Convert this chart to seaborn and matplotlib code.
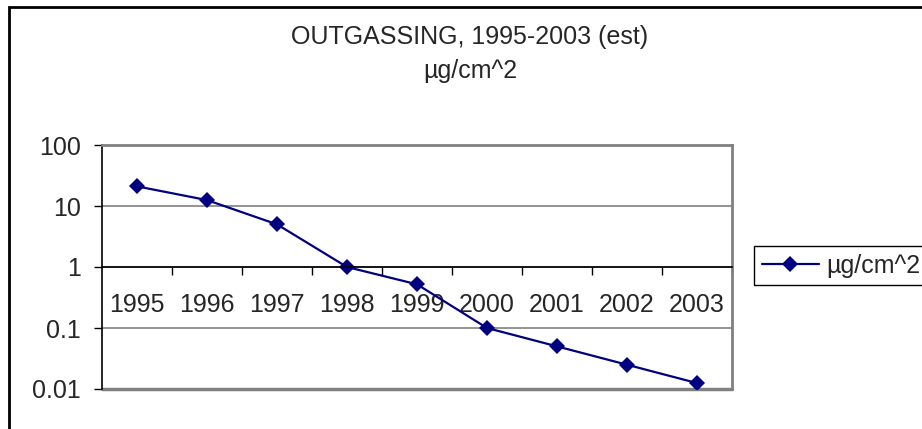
import matplotlib
matplotlib.use("Agg")
import matplotlib.pyplot as plt
import matplotlib.patches as patches
from matplotlib.ticker import FixedLocator, NullLocator
import pandas as pd
import seaborn as sns

# Data
years = ['1995', '1996', '1997', '1998', '1999', '2000', '2001', '2002', '2003']
outgassing = [21, 12.5, 5, 1, 0.52, 0.1, 0.05, 0.025, 0.0125]
y_ticks = [0.01, 0.1, 1, 10, 100]
y_tick_labels = ['0.01', '0.1', '1', '10', '100']
series_name = 'µg/cm^2'

df = pd.DataFrame({'year': years, series_name: outgassing})

sns.set_style('white')
plt.rcParams['font.family'] = ['Liberation Sans', 'DejaVu Sans']

fig = plt.figure(figsize=(9.22, 4.29), dpi=100)
ax = fig.add_axes([102 / 922, 1 - 389 / 429, 630 / 922, 244 / 429])

sns.lineplot(data=df, x='year', y=series_name, ax=ax, color='#000080',
             linewidth=1.6, marker='D', markersize=8.5, markeredgewidth=0,
             label=series_name, sort=False)

ax.set_yscale('log')
ax.set_ylim(0.01, 100)
ax.set_xlim(-0.5, len(years) - 0.5)

# y axis
ax.yaxis.set_major_locator(FixedLocator(y_ticks))
ax.set_yticklabels(y_tick_labels)
ax.yaxis.set_minor_locator(NullLocator())
ax.tick_params(axis='y', which='major', direction='out', length=6, width=1,
               color='black', labelsize=18, pad=9, left=True)
ax.grid(axis='y', color='#808080', linewidth=1.2)
ax.set_axisbelow(True)

# x axis crossing at 1, ticks between categories
ax.spines['bottom'].set_position(('data', 1))
ax.spines['bottom'].set_color('black')
ax.spines['bottom'].set_linewidth(1.2)
ax.xaxis.set_major_locator(FixedLocator([i + 0.5 for i in range(len(years))]))
ax.xaxis.set_minor_locator(FixedLocator(list(range(len(years)))))
ax.xaxis.set_major_formatter(plt.NullFormatter())
ax.xaxis.set_minor_formatter(plt.FixedFormatter(years))
ax.tick_params(axis='x', which='major', direction='out', length=6, width=1,
               color='black', bottom=True)
ax.tick_params(axis='x', which='minor', length=0, labelsize=18, pad=19, bottom=True)

ax.spines['left'].set_color('black')
ax.spines['left'].set_linewidth(1.2)
for side in ['top', 'right']:
    ax.spines[side].set_visible(True)
    ax.spines[side].set_color('#808080')
    ax.spines[side].set_linewidth(2)
ax.axhline(0.01, color='#808080', linewidth=2.5, clip_on=False, zorder=1)

ax.set_xlabel('')
ax.set_ylabel('')

# Title
fig.text(470 / 922, 1 - 37 / 429, 'OUTGASSING, 1995-2003 (est)', ha='center',
         va='center', fontsize=18)
fig.text(470 / 922, 1 - 71 / 429, series_name, ha='center', va='center',
         fontsize=18)

# Legend
handles, labels = ax.get_legend_handles_labels()
ax.legend(handles, labels, loc='upper left',
          bbox_to_anchor=(754 / 922, 1 - 246 / 429), bbox_transform=fig.transFigure,
          fontsize=18, frameon=True, fancybox=False, edgecolor='black',
          framealpha=1, handlelength=2.3, handletextpad=0.3, borderpad=0.3,
          borderaxespad=0)
ax.get_legend().get_frame().set_linewidth(1)

# Chart border
border = patches.Rectangle((8.5 / 922, -0.1), 1.2, 1.1 - 7 / 429, fill=False,
                           edgecolor='black', linewidth=2,
                           transform=fig.transFigure, clip_on=False)
fig.patches.append(border)

fig.savefig('out.png', dpi=100)
